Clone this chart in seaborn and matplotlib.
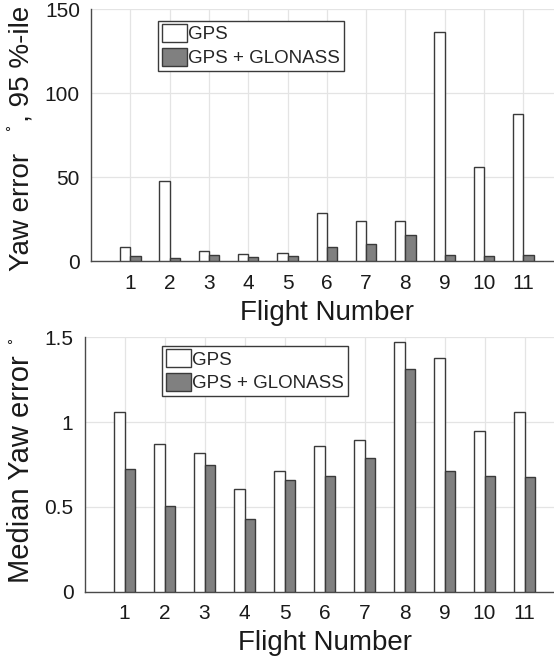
import pandas as pd
import matplotlib
matplotlib.use("Agg")
import matplotlib.pyplot as plt
import seaborn as sns

flights = [1, 2, 3, 4, 5, 6, 7, 8, 9, 10, 11]
systems = ["GPS", "GPS + GLONASS"]

# 95th percentile yaw error (deg)
gps_95 = [8.3, 47.6, 6.1, 4.3, 5.1, 28.6, 24.2, 24.2, 136.3, 56.1, 87.7]
glonass_95 = [3.4, 2.0, 3.75, 2.4, 3.0, 8.3, 10.5, 15.5, 3.6, 3.0, 3.9]

# median yaw error (deg)
gps_med = [1.057, 0.868, 0.819, 0.604, 0.713, 0.862, 0.896, 1.474, 1.376, 0.945, 1.061]
glonass_med = [0.722, 0.508, 0.746, 0.427, 0.659, 0.681, 0.789, 1.311, 0.713, 0.685, 0.677]

top_ticks = [0, 50, 100, 150]
bottom_ticks = [0, 0.5, 1, 1.5]
bottom_ticklabels = ["0", "0.5", "1", "1.5"]


def long_frame(a, b):
    return pd.DataFrame({
        "Flight": flights + flights,
        "value": a + b,
        "System": [systems[0]] * len(flights) + [systems[1]] * len(flights),
    })


sns.set_theme(style="whitegrid")
plt.rcParams["font.family"] = ["Liberation Sans", "DejaVu Sans"]

W, H = 554, 659
fig = plt.figure(figsize=(W / 100, H / 100), dpi=100)

# axes rectangles in pixels: left, top, width, height
ax1 = fig.add_axes([91 / W, 1 - 261.3 / H, 471.6 / W, 252 / H])
ax2 = fig.add_axes([84.5 / W, 1 - 591.7 / H, 480 / W, 254.4 / H])

palette = ["white", "#808080"]
edge = "#3a3a3a"


def draw(ax, df, ymax, ticks, ticklabels, ylabel, ylsize, leg_anchor, label_y):
    sns.barplot(data=df, x="Flight", y="value", hue="System", order=flights,
                hue_order=systems, palette=palette, width=0.52,
                edgecolor=edge, linewidth=1.0, saturation=1, ax=ax, zorder=3)
    ax.set_xlim(-1, 11)
    ax.set_ylim(0, ymax)
    ax.set_yticks(ticks)
    ax.set_yticklabels(ticklabels)
    ax.set_xlabel("Flight Number", fontsize=20, color="#1a1a1a", labelpad=5)
    ax.set_ylabel(ylabel, fontsize=ylsize, color="#1a1a1a")
    ax.yaxis.set_label_coords(35 / W, label_y, transform=fig.transFigure)
    ax.grid(True, color="#e4e4e4", linewidth=0.9, zorder=0)
    ax.set_axisbelow(True)
    for s in ["top", "right"]:
        ax.spines[s].set_visible(False)
    for s in ["left", "bottom"]:
        ax.spines[s].set_color("#4a4a4a")
        ax.spines[s].set_linewidth(1.0)
    ax.tick_params(axis="both", direction="in", length=4, width=0.8,
                   color="#4a4a4a", labelsize=15, labelcolor="#1a1a1a", pad=8)
    ax.tick_params(axis="x", length=0, pad=9)
    handles, labels = ax.get_legend_handles_labels()
    ax.legend(handles, labels, loc="upper left", bbox_to_anchor=leg_anchor,
              borderaxespad=0, fontsize=13.5, frameon=True, fancybox=False,
              framealpha=1, edgecolor="#3a3a3a", handlelength=1.35,
              handleheight=1.05, handletextpad=0.05, borderpad=0.2,
              labelspacing=0.25)
    ax.get_legend().get_frame().set_linewidth(1.0)


draw(ax1, long_frame(gps_95, glonass_95), 150, top_ticks,
     [str(t) for t in top_ticks], "Yaw error    , 95 %-ile", 20,
     (0.1427, 0.955), 1 - 138.5 / H)
draw(ax2, long_frame(gps_med, glonass_med), 1.5, bottom_ticks,
     bottom_ticklabels, "Median Yaw error", 21, (0.162, 0.967), 1 - 469 / H)

# stray degree signs next to the y labels
fig.text(7 / W, 1 - 133 / H, "°", fontsize=11,
         ha="center", va="center", color="#1a1a1a")
fig.text(9 / W, 1 - 346 / H, "°", fontsize=11,
         ha="center", va="center", color="#1a1a1a")

fig.savefig("out.png", dpi=100)
